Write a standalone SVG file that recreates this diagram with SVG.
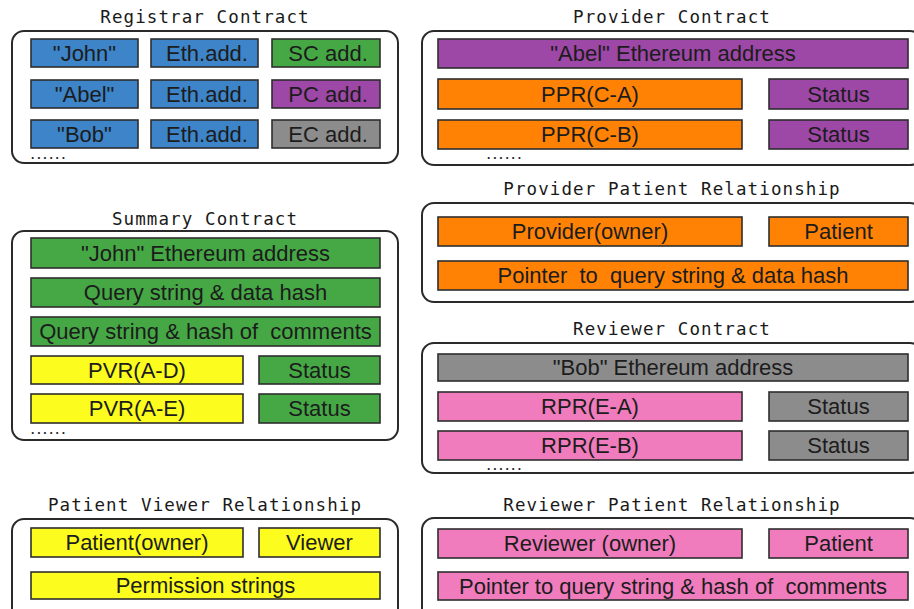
<svg xmlns="http://www.w3.org/2000/svg" width="914" height="609" viewBox="0 0 914 609">
  <style>
    .title { font-family: "DejaVu Sans Mono", "Liberation Mono", monospace; font-size: 17.5px; letter-spacing: 1.1px; fill: #1a1a1a; text-anchor: middle; }
    .frame { fill: #ffffff; stroke: #2a2a2a; stroke-width: 2; }
    .cell { stroke: #2e2e2e; stroke-width: 1.6; }
    .lbl { font-family: "Liberation Sans", Arial, sans-serif; font-size: 22px; fill: #1c1c1c; text-anchor: middle; dominant-baseline: central; white-space: pre; }
    .dots { font-family: "Liberation Sans", Arial, sans-serif; font-size: 12px; font-weight: bold; letter-spacing: 2.8px; fill: #222; }
    .blue { fill: #3d84c8; }
    .green { fill: #45a845; }
    .purple { fill: #9d47a6; }
    .gray { fill: #8c8c8c; }
    .orange { fill: #ff8205; }
    .yellow { fill: #fcfc1e; }
    .pink { fill: #f07cbd; }
  </style>

  <rect width="914" height="609" fill="#ffffff"/>

  <!-- Registrar Contract -->
  <g id="registrar-contract">
    <text class="title" x="205" y="23">Registrar Contract</text>
    <rect class="frame" x="12" y="31" width="386" height="132" rx="12"/>
    <rect class="cell blue" x="31" y="39" width="107" height="28"/>
    <text class="lbl" x="84.5" y="53">"John"</text>
    <rect class="cell blue" x="151" y="39" width="107" height="28"/>
    <text class="lbl" x="207" y="53">Eth.add.</text>
    <rect class="cell green" x="272" y="39" width="108" height="28"/>
    <text class="lbl" x="328" y="53">SC add.</text>
    <rect class="cell blue" x="31" y="80" width="107" height="28"/>
    <text class="lbl" x="84.5" y="94">"Abel"</text>
    <rect class="cell blue" x="151" y="80" width="107" height="28"/>
    <text class="lbl" x="207" y="94">Eth.add.</text>
    <rect class="cell purple" x="272" y="80" width="108" height="28"/>
    <text class="lbl" x="328" y="94">PC add.</text>
    <rect class="cell blue" x="31" y="120" width="107" height="28"/>
    <text class="lbl" x="84.5" y="134">"Bob"</text>
    <rect class="cell blue" x="151" y="120" width="107" height="28"/>
    <text class="lbl" x="207" y="134">Eth.add.</text>
    <rect class="cell gray" x="272" y="120" width="108" height="28"/>
    <text class="lbl" x="328" y="134">EC add.</text>
    <text class="dots" x="31" y="159">......</text>
  </g>

  <!-- Provider Contract -->
  <g id="provider-contract">
    <text class="title" x="672" y="23">Provider Contract</text>
    <rect class="frame" x="422" y="31" width="500" height="134" rx="12"/>
    <rect class="cell purple" x="438" y="39" width="470" height="29"/>
    <text class="lbl" x="673" y="53.5">"Abel" Ethereum address</text>
    <rect class="cell orange" x="438" y="79" width="304" height="30"/>
    <text class="lbl" x="590" y="94">PPR(C-A)</text>
    <rect class="cell purple" x="769" y="79" width="139" height="30"/>
    <text class="lbl" x="838.5" y="94">Status</text>
    <rect class="cell orange" x="438" y="120" width="304" height="29"/>
    <text class="lbl" x="590" y="134.5">PPR(C-B)</text>
    <rect class="cell purple" x="769" y="120" width="139" height="29"/>
    <text class="lbl" x="838.5" y="134.5">Status</text>
    <text class="dots" x="487" y="159">......</text>
  </g>

  <!-- Summary Contract -->
  <g id="summary-contract">
    <text class="title" x="205" y="225">Summary Contract</text>
    <rect class="frame" x="12" y="231" width="386" height="209" rx="12"/>
    <rect class="cell green" x="31" y="238" width="349" height="30"/>
    <text class="lbl" x="205.5" y="253">"John" Ethereum address</text>
    <rect class="cell green" x="31" y="278" width="349" height="29"/>
    <text class="lbl" x="205.5" y="292.5">Query string &amp; data hash</text>
    <rect class="cell green" x="31" y="317" width="349" height="29"/>
    <text class="lbl" x="205.5" y="331.5">Query string &amp; hash of  comments</text>
    <rect class="cell yellow" x="31" y="356" width="212" height="28"/>
    <text class="lbl" x="137" y="370">PVR(A-D)</text>
    <rect class="cell green" x="259" y="356" width="121" height="28"/>
    <text class="lbl" x="319.5" y="370">Status</text>
    <rect class="cell yellow" x="31" y="394" width="212" height="29"/>
    <text class="lbl" x="137" y="408.5">PVR(A-E)</text>
    <rect class="cell green" x="259" y="394" width="121" height="29"/>
    <text class="lbl" x="319.5" y="408.5">Status</text>
    <text class="dots" x="31" y="434">......</text>
  </g>

  <!-- Provider Patient Relationship -->
  <g id="provider-patient-relationship">
    <text class="title" x="672" y="195">Provider Patient Relationship</text>
    <rect class="frame" x="422" y="203" width="500" height="99" rx="12"/>
    <rect class="cell orange" x="438" y="217" width="304" height="29"/>
    <text class="lbl" x="590" y="231.5">Provider(owner)</text>
    <rect class="cell orange" x="769" y="217" width="139" height="29"/>
    <text class="lbl" x="838.5" y="231.5">Patient</text>
    <rect class="cell orange" x="438" y="261" width="470" height="29"/>
    <text class="lbl" x="673" y="275.5">Pointer  to  query string &amp; data hash</text>
  </g>

  <!-- Reviewer Contract -->
  <g id="reviewer-contract">
    <text class="title" x="672" y="335">Reviewer Contract</text>
    <rect class="frame" x="422" y="343" width="500" height="130" rx="12"/>
    <rect class="cell gray" x="438" y="354" width="470" height="27"/>
    <text class="lbl" x="673" y="367.5">"Bob" Ethereum address</text>
    <rect class="cell pink" x="438" y="392" width="304" height="29"/>
    <text class="lbl" x="590" y="406.5">RPR(E-A)</text>
    <rect class="cell gray" x="769" y="392" width="139" height="29"/>
    <text class="lbl" x="838.5" y="406.5">Status</text>
    <rect class="cell pink" x="438" y="431" width="304" height="29"/>
    <text class="lbl" x="590" y="445.5">RPR(E-B)</text>
    <rect class="cell gray" x="769" y="431" width="139" height="29"/>
    <text class="lbl" x="838.5" y="445.5">Status</text>
    <text class="dots" x="487" y="470">......</text>
  </g>

  <!-- Patient Viewer Relationship -->
  <g id="patient-viewer-relationship">
    <text class="title" x="205" y="511">Patient Viewer Relationship</text>
    <rect class="frame" x="12" y="519" width="386" height="104" rx="12"/>
    <rect class="cell yellow" x="31" y="528" width="212" height="29"/>
    <text class="lbl" x="137" y="542.5">Patient(owner)</text>
    <rect class="cell yellow" x="259" y="528" width="121" height="29"/>
    <text class="lbl" x="319.5" y="542.5">Viewer</text>
    <rect class="cell yellow" x="31" y="572" width="349" height="27"/>
    <text class="lbl" x="205.5" y="585.5">Permission strings</text>
  </g>

  <!-- Reviewer Patient Relationship -->
  <g id="reviewer-patient-relationship">
    <text class="title" x="672" y="511">Reviewer Patient Relationship</text>
    <rect class="frame" x="422" y="518" width="500" height="104" rx="12"/>
    <rect class="cell pink" x="438" y="529" width="304" height="29"/>
    <text class="lbl" x="590" y="543.5">Reviewer (owner)</text>
    <rect class="cell pink" x="769" y="529" width="139" height="29"/>
    <text class="lbl" x="838.5" y="543.5">Patient</text>
    <rect class="cell pink" x="438" y="572" width="470" height="28"/>
    <text class="lbl" x="673" y="586">Pointer to query string &amp; hash of  comments</text>
  </g>

  <!-- no connectors in this figure -->
  <g id="connectors"/>
</svg>
